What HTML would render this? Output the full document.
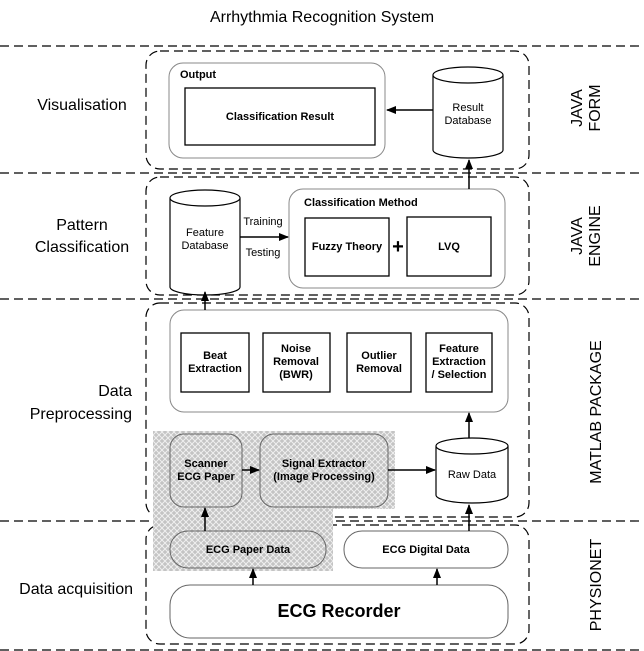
<!DOCTYPE html>
<html><head><meta charset="utf-8"><style>
html,body{margin:0;padding:0;background:#fff}
svg{display:block}
text{font-family:"Liberation Sans",Arial,sans-serif;fill:#000}
.b{font-weight:bold;font-size:11px}
</style></head><body>
<svg width="644" height="651" viewBox="0 0 644 651" xmlns="http://www.w3.org/2000/svg">
<defs>
<pattern id="h" width="6" height="6" patternUnits="userSpaceOnUse">
<rect width="6" height="6" fill="#c4c4c4"/>
<path d="M0 0L6 6M6 0L0 6" stroke="#efefef" stroke-width="1"/>
</pattern>
<marker id="a" markerWidth="10" markerHeight="8" refX="9" refY="4" orient="auto" markerUnits="userSpaceOnUse">
<path d="M0 0L10 4L0 8z" fill="#000"/>
</marker>
</defs>
<text x="322" y="22" font-size="16" text-anchor="middle">Arrhythmia Recognition System</text>
<!-- horizontal dashed lines -->
<g stroke="#000" stroke-width="1.2" stroke-dasharray="9,5" fill="none">
<line x1="0" y1="46" x2="644" y2="46"/>
<line x1="0" y1="173" x2="644" y2="173"/>
<line x1="0" y1="299" x2="644" y2="299"/>
<line x1="0" y1="521" x2="644" y2="521"/>
<line x1="0" y1="650" x2="644" y2="650"/>
<rect x="146" y="51" width="383" height="118" rx="14"/>
<rect x="146" y="177" width="383" height="118" rx="14"/>
<rect x="146" y="303" width="383" height="214" rx="14"/>
<rect x="146" y="525" width="383" height="119" rx="14"/>
</g>
<!-- hatch -->
<path d="M153 431H395V509H333V571H153Z" fill="url(#h)"/>
<!-- section 1 -->
<g stroke="#000" fill="#fff">
<rect x="169" y="63" width="216" height="95" rx="14" stroke="#888"/>
<rect x="185" y="88" width="190" height="57" stroke-width="1.3"/>
<path d="M433 75V150A35 8 0 0 0 503 150V75A35 8 0 0 0 433 75A35 8 0 0 0 503 75" stroke-width="1.2"/>
<rect x="289" y="189" width="216" height="99" rx="14" stroke="#888"/>
<rect x="305" y="218" width="84" height="58" stroke-width="1.3"/>
<rect x="407" y="217" width="84" height="59" stroke-width="1.3"/>
<path d="M170 198V287A35 8 0 0 0 240 287V198A35 8 0 0 0 170 198A35 8 0 0 0 240 198" stroke-width="1.2"/>
<rect x="170" y="310" width="338" height="102" rx="14" stroke="#888"/>
<rect x="181" y="333" width="68" height="59" stroke-width="1.3"/>
<rect x="263" y="333" width="67" height="59" stroke-width="1.3"/>
<rect x="347" y="333" width="64" height="59" stroke-width="1.3"/>
<rect x="426" y="333" width="66" height="59" stroke-width="1.3"/>
<path d="M436 446V495A36 8 0 0 0 508 495V446A36 8 0 0 0 436 446A36 8 0 0 0 508 446" stroke-width="1.2"/>
<rect x="170" y="434" width="72" height="73" rx="14" stroke="#666" fill="none"/>
<rect x="260" y="434" width="128" height="73" rx="14" stroke="#666" fill="none"/>
<rect x="170" y="531" width="156" height="37" rx="18" stroke="#666" fill="none"/>
<rect x="344" y="531" width="164" height="37" rx="18" stroke="#666"/>
<rect x="170" y="585" width="338" height="53" rx="20" stroke="#666"/>
</g>
<!-- arrows -->
<g stroke="#000" stroke-width="1.5" marker-end="url(#a)">
<line x1="433" y1="110" x2="387" y2="110"/>
<line x1="469" y1="189" x2="469" y2="160"/>
<line x1="240" y1="237" x2="288" y2="237"/>
<line x1="205" y1="310" x2="205" y2="292"/>
<line x1="469" y1="438" x2="469" y2="413"/>
<line x1="242" y1="470" x2="259" y2="470"/>
<line x1="388" y1="470" x2="435" y2="470"/>
<line x1="205" y1="531" x2="205" y2="508"/>
<line x1="469" y1="531" x2="469" y2="505"/>
<line x1="253" y1="585" x2="253" y2="569"/>
<line x1="437" y1="585" x2="437" y2="569"/>
</g>
<!-- labels -->
<g font-size="16">
<text x="82" y="110" text-anchor="middle">Visualisation</text>
<text x="82" y="230" text-anchor="middle">Pattern</text>
<text x="82" y="252" text-anchor="middle">Classification</text>
<text x="132" y="396" text-anchor="end">Data</text>
<text x="132" y="419" text-anchor="end">Preprocessing</text>
<text x="133" y="594" text-anchor="end">Data acquisition</text>
</g>
<g font-size="16" text-anchor="middle">
<text transform="translate(582,108) rotate(-90)">JAVA</text>
<text transform="translate(600,108) rotate(-90)">FORM</text>
<text transform="translate(582,236) rotate(-90)">JAVA</text>
<text transform="translate(600,236) rotate(-90)">ENGINE</text>
<text transform="translate(601,412) rotate(-90)">MATLAB PACKAGE</text>
<text transform="translate(601,585) rotate(-90)">PHYSIONET</text>
</g>
<text x="180" y="78" class="b" font-size="10">Output</text>
<text x="280" y="120" class="b" text-anchor="middle">Classification Result</text>
<text x="468" y="111" font-size="11" text-anchor="middle">Result</text>
<text x="468" y="124" font-size="11" text-anchor="middle">Database</text>
<text x="205" y="236" font-size="11" text-anchor="middle">Feature</text>
<text x="205" y="249" font-size="11" text-anchor="middle">Database</text>
<text x="263" y="225" font-size="11" text-anchor="middle">Training</text>
<text x="263" y="256" font-size="11" text-anchor="middle">Testing</text>
<text x="304" y="206" class="b" font-size="10">Classification Method</text>
<text x="347" y="250" class="b" text-anchor="middle">Fuzzy Theory</text>
<text x="449" y="250" class="b" text-anchor="middle">LVQ</text>
<text x="398" y="253" font-size="20" font-weight="bold" text-anchor="middle">+</text>
<g class="b" text-anchor="middle" font-size="10.5">
<text x="215" y="359">Beat</text><text x="215" y="372">Extraction</text>
<text x="296" y="352">Noise</text><text x="296" y="365">Removal</text><text x="296" y="378">(BWR)</text>
<text x="379" y="359">Outlier</text><text x="379" y="372">Removal</text>
<text x="459" y="352">Feature</text><text x="459" y="365">Extraction</text><text x="459" y="378">/ Selection</text>
<text x="206" y="467">Scanner</text><text x="206" y="480">ECG Paper</text>
<text x="324" y="467">Signal Extractor</text><text x="324" y="480">(Image Processing)</text>
<text x="248" y="553">ECG Paper Data</text>
<text x="426" y="553">ECG Digital Data</text>
</g>
<text x="472" y="478" font-size="11" text-anchor="middle">Raw Data</text>
<text x="339" y="617" font-size="18" font-weight="bold" text-anchor="middle">ECG Recorder</text>
</svg>
</body></html>
